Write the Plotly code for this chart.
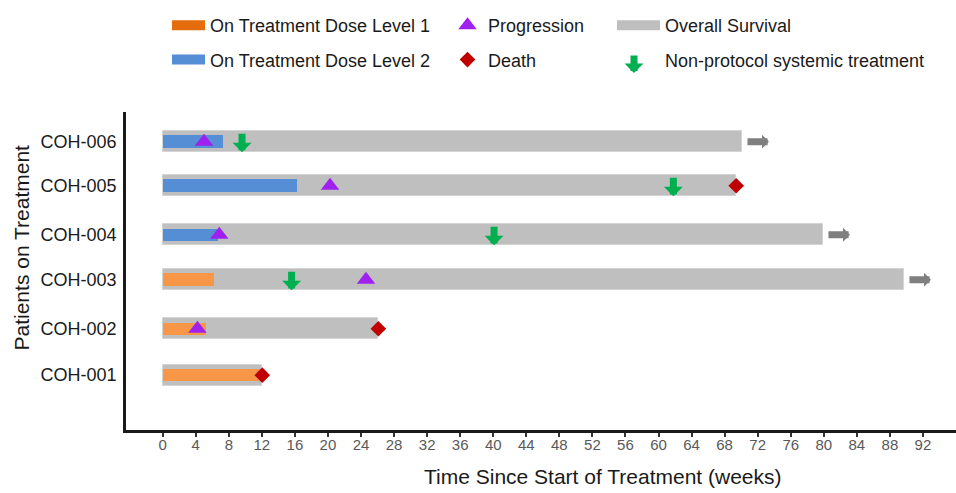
import plotly.graph_objects as go

# ---------------- data ----------------
patients = ["COH-001", "COH-002", "COH-003", "COH-004", "COH-005", "COH-006"]
dose_level = [1, 1, 1, 2, 2, 2]
treatment_weeks = [11.8, 5.3, 6.2, 6.7, 16.2, 7.3]
survival_weeks = [12.0, 26.1, 89.7, 79.9, 69.4, 70.1]
progression_weeks = [None, 4.2, 24.6, 6.85, 20.25, 5.0]
death_weeks = [12.05, 26.1, None, None, 69.4, None]
nonprotocol_weeks = [None, None, 15.6, 40.1, 61.8, 9.6]
ongoing = [False, False, True, True, False, True]
x_ticks = list(range(0, 96, 4))

# ---------------- layout helpers ----------------
row_pos = [1.22, 2.25, 3.34, 4.34, 5.43, 6.41]   # vertical placement of rows
FONT = "Liberation Sans, Arial, sans-serif"
ORANGE_BAR, ORANGE_LEG = "#F79646", "#E46C0A"
BLUE = "#558ED5"
GRAY = "#BFBFBF"
PURPLE = "#A020F0"
RED = "#C00000"
GREEN = "#00B050"
ARROW_GRAY = "#7F7F7F"
W, H = 956, 493
ML, MR, MT, MB = 126, 0, 112, 63
PW, PH = W - ML - MR, H - MT - MB


def px_x(px):
    return (px - ML) / PW


def px_y(py):
    return (MT + PH - py) / PH


fig = go.Figure()

# overall survival (gray)
fig.add_trace(go.Bar(
    y=row_pos, x=survival_weeks, base=0, orientation="h", width=0.467,
    marker=dict(color=GRAY, line=dict(color="#D4D4D4", width=1)),
    showlegend=False, hoverinfo="skip"))

# on-treatment bars by dose level
for lvl, col in [(1, ORANGE_BAR), (2, BLUE)]:
    idx = [i for i, d in enumerate(dose_level) if d == lvl]
    fig.add_trace(go.Bar(
        y=[row_pos[i] for i in idx], x=[treatment_weeks[i] for i in idx], base=0,
        orientation="h", width=0.28, marker=dict(color=col, line=dict(width=0)),
        showlegend=False, hoverinfo="skip"))

# progression & death markers
fig.add_trace(go.Scatter(
    x=progression_weeks, y=row_pos, mode="markers", name="Progression",
    marker=dict(symbol="triangle-up", size=16, color=PURPLE),
    legend="legend2", legendgroup="g3"))
fig.add_trace(go.Scatter(
    x=death_weeks, y=row_pos, mode="markers", name="Death",
    marker=dict(symbol="diamond", size=12, color=RED),
    legend="legend2", legendgroup="g4"))

# legend-only entries
fig.add_trace(go.Scatter(x=[None], y=[None], mode="lines", name="On Treatment Dose Level 1",
                         line=dict(color=ORANGE_LEG, width=14), legend="legend", legendgroup="g1"))
fig.add_trace(go.Scatter(x=[None], y=[None], mode="lines", name="On Treatment Dose Level 2",
                         line=dict(color=BLUE, width=14), legend="legend", legendgroup="g2"))
fig.add_trace(go.Scatter(x=[None], y=[None], mode="lines", name="Overall Survival",
                         line=dict(color=GRAY, width=20), legend="legend3", legendgroup="g5"))
fig.add_trace(go.Scatter(x=[None], y=[None], mode="markers", name="Non-protocol systemic treatment",
                         marker=dict(color="rgba(0,0,0,0)", size=12), legend="legend3", legendgroup="g6"))

annotations = []
# non-protocol systemic treatment arrows (down)
for i, v in enumerate(nonprotocol_weeks):
    if v is None:
        continue
    annotations.append(dict(x=v, y=row_pos[i], xref="x", yref="y", text="", showarrow=True,
                            arrowhead=1, arrowsize=0.45, arrowwidth=7, arrowcolor=GREEN,
                            ax=0, ay=-20, yshift=-10.5))
# ongoing survival arrows (right)
for i, v in enumerate(survival_weeks):
    if not ongoing[i]:
        continue
    annotations.append(dict(x=v, y=row_pos[i], xref="x", yref="y", text="", showarrow=True,
                            arrowhead=1, arrowsize=0.33, arrowwidth=7, arrowcolor=ARROW_GRAY,
                            ax=-23, ay=0, xshift=27))
# legend glyph for non-protocol treatment
annotations.append(dict(x=px_x(634), y=px_y(73), xref="paper", yref="paper",
                        text="", showarrow=True, arrowhead=1, arrowsize=0.45, arrowwidth=7,
                        arrowcolor=GREEN, ax=0, ay=-19))
# axis titles
annotations.append(dict(x=px_x(603), y=px_y(476), xref="paper", yref="paper",
                        text="Time Since Start of Treatment (weeks)", showarrow=False,
                        xanchor="center", yanchor="middle",
                        font=dict(family=FONT, size=21, color="#1a1a1a")))
annotations.append(dict(x=px_x(21), y=px_y(247.5), xref="paper", yref="paper",
                        text="Patients on Treatment", showarrow=False, textangle=-90,
                        xanchor="center", yanchor="middle",
                        font=dict(family=FONT, size=21, color="#1a1a1a")))

leg_common = dict(xref="paper", yref="paper", xanchor="left", yanchor="top",
                  orientation="v", bgcolor="rgba(0,0,0,0)", borderwidth=0,
                  font=dict(family=FONT, size=18, color="#1a1a1a"),
                  tracegroupgap=8, traceorder="grouped")

LEG_TOP = 7
fig.update_layout(
    width=W, height=H,
    margin=dict(l=ML, r=MR, t=MT, b=MB, pad=0, autoexpand=False),
    plot_bgcolor="white", paper_bgcolor="white",
    barmode="overlay", bargap=0,
    font=dict(family=FONT, size=18, color="#1a1a1a"),
    xaxis=dict(range=[-4.44, 96.0], tickvals=x_ticks, ticktext=[str(t) for t in x_ticks],
               showgrid=False, zeroline=False, showline=True, linewidth=2.5, linecolor="#1a1a1a",
               ticks="outside", ticklen=4, tickwidth=1.5, tickcolor="#333333", automargin=False,
               ticklabelstandoff=-5,
               tickfont=dict(family=FONT, size=15, color="#595959")),
    yaxis=dict(range=[0, 7.07], tickvals=row_pos, ticktext=patients,
               showgrid=False, zeroline=False, showline=True, linewidth=2.5, linecolor="#1a1a1a",
               ticks="", ticklabelstandoff=3, automargin=False,
               tickfont=dict(family=FONT, size=18, color="#1a1a1a")),
    legend=dict(x=px_x(167), y=px_y(LEG_TOP), itemwidth=33, **leg_common),
    legend2=dict(x=px_x(447), y=px_y(LEG_TOP), itemwidth=31, **leg_common),
    legend3=dict(x=px_x(612), y=px_y(LEG_TOP), itemwidth=43, **leg_common),
    annotations=annotations,
    showlegend=True,
)

fig.write_html("out.html", config={"displayModeBar": False},
               post_script="document.body.style.margin='0';document.body.style.padding='0';")
